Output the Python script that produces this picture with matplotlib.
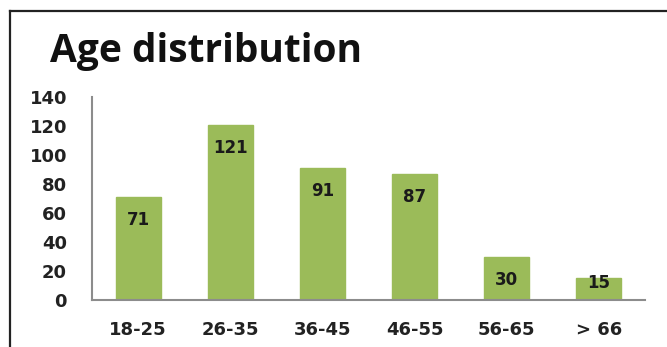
import matplotlib.pyplot as plt
from matplotlib.lines import Line2D

plt.rcParams['font.family'] = ['DejaVu Sans']

age_groups = ['18-25', '26-35', '36-45', '46-55', '56-65', '> 66']
counts = [71, 121, 91, 87, 30, 15]

fig = plt.figure(figsize=(6.67, 3.47), dpi=100)
ax = fig.add_axes([0.138, 0.1354, 0.829, 0.585])

x = range(len(age_groups))
ax.bar(x, counts, width=0.49, color='#9bbb59', edgecolor='#9bbb59', zorder=2)

for i, v in enumerate(counts):
    ax.text(i, max(v - 16, 11.5), str(v), ha='center', va='center',
            fontsize=12, fontweight='bold', color='#1a1a1a', zorder=3)

ax.set_xlim(-0.5, len(age_groups) - 0.5)
ax.set_ylim(0, 140)
ax.set_yticks(range(0, 141, 20))
ax.set_xticks(list(x))
ax.set_xticklabels(age_groups)

for side in ['top', 'right']:
    ax.spines[side].set_visible(False)
for side in ['left', 'bottom']:
    ax.spines[side].set_color('#8c8c8c')
    ax.spines[side].set_linewidth(1.5)

ax.tick_params(axis='y', length=0, pad=18, labelsize=13, labelcolor='#222222')
ax.tick_params(axis='x', length=0, pad=15, labelsize=13, labelcolor='#222222')
for lbl in ax.get_xticklabels() + ax.get_yticklabels():
    lbl.set_fontweight('bold')

fig.text(0.075, 0.821, 'Age distribution', fontsize=28, fontweight='bold',
         family=['Open Sans', 'DejaVu Sans'],
         ha='left', va='baseline', color='#111111')

# frame lines at top and left
fig.add_artist(Line2D([0.0157, 1.0], [0.968, 0.968], color='#222222', linewidth=1.6))
fig.add_artist(Line2D([0.0157, 0.0157], [0.0, 0.968], color='#222222', linewidth=1.6))

fig.savefig('out.png', dpi=100)
